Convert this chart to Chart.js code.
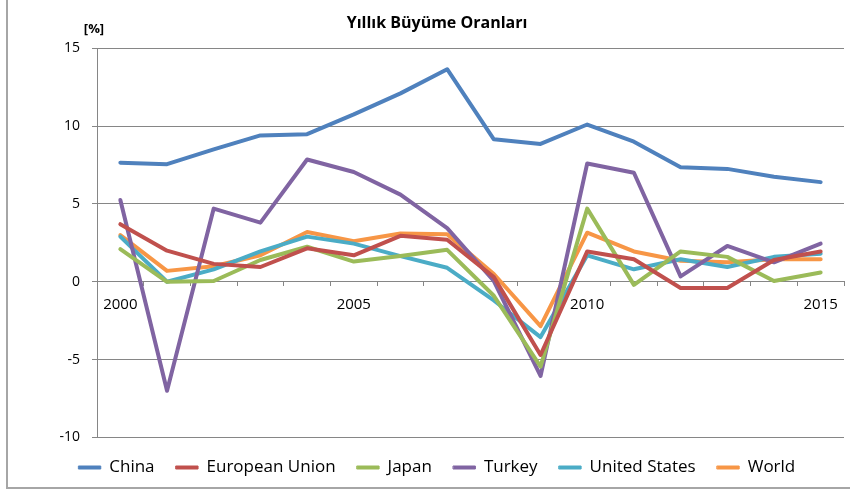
<!DOCTYPE html>
<html>
<head>
<meta charset="utf-8">
<script src="https://cdn.jsdelivr.net/npm/chart.js@4"></script>
<style>
    html, body { margin: 0; padding: 0; background: #fff; }
    #wrap { position: relative; width: 850px; height: 492px; }
</style>
</head>
<body>
<div id="wrap"><canvas id="growthGraph" width="850" height="492"></canvas></div>
<script>
// data
const years = ['2000', '2001', '2002', '2003', '2004', '2005', '2006', '2007',
               '2008', '2009', '2010', '2011', '2012', '2013', '2014', '2015'];
const china = [7.65, 7.55, 8.5, 9.4, 9.48, 10.75, 12.1, 13.65, 9.15, 8.85, 10.1, 9.0, 7.35, 7.25, 6.75, 6.4];
const europeanUnion = [3.7, 2.0, 1.15, 0.95, 2.15, 1.7, 2.95, 2.7, 0.3, -4.7, 1.95, 1.45, -0.4, -0.4, 1.4, 1.95];
const japan = [2.1, 0.0, 0.05, 1.4, 2.25, 1.3, 1.65, 2.05, -0.9, -5.45, 4.7, -0.2, 1.95, 1.6, 0.05, 0.6];
const turkey = [5.25, -7.0, 4.7, 3.8, 7.85, 7.05, 5.6, 3.45, 0.05, -6.05, 7.6, 7.0, 0.35, 2.3, 1.25, 2.45];
const unitedStates = [2.9, 0.0, 0.8, 1.95, 2.9, 2.45, 1.65, 0.9, -1.2, -3.55, 1.7, 0.8, 1.45, 0.95, 1.6, 1.8];
const world = [3.0, 0.7, 1.0, 1.7, 3.2, 2.6, 3.1, 3.05, 0.5, -2.85, 3.15, 1.95, 1.35, 1.25, 1.45, 1.45];
const yTicks = [-10, -5, 0, 5, 10, 15];

const gridColor = '#868686';

function series(label, data, color) {
    return {
        label: label,
        data: data,
        borderColor: color,
        backgroundColor: color,
        borderWidth: 4,
        pointRadius: 0,
        pointHoverRadius: 0,
        tension: 0,
        fill: false,
        borderJoinStyle: 'round',
        borderCapStyle: 'round'
    };
}

// frame, and the [%] unit over the y axis
const extrasPlugin = {
    id: 'extras',
    beforeDraw(chart) {
        const ctx = chart.ctx;
        ctx.save();
        ctx.strokeStyle = '#a6a6a6';
        ctx.lineWidth = 2;
        ctx.beginPath();
        ctx.moveTo(7, 0);
        ctx.lineTo(7, 488);
        ctx.lineTo(850, 488);
        ctx.stroke();
        ctx.restore();
    },
    afterDraw(chart) {
        const ctx = chart.ctx;
        ctx.save();
        ctx.font = 'bold 13px "Open Sans", sans-serif';
        ctx.fillStyle = '#000';
        ctx.textAlign = 'center';
        ctx.textBaseline = 'middle';
        ctx.fillText('[%]', 94, 29);
        ctx.restore();
    }
};

const growthConfig =
{
    type: 'line',
    data: {
        labels: years,
        datasets: [
            series('China', china, '#4F81BD'),
            series('European Union', europeanUnion, '#C0504D'),
            series('Japan', japan, '#9BBB59'),
            series('Turkey', turkey, '#8064A2'),
            series('United States', unitedStates, '#4BACC6'),
            series('World', world, '#F79646')
        ]
    },
    options: {
        responsive: false,
        animation: false,
        layout: {
            padding: { left: 30, right: 6, top: 0, bottom: 6 }
        },
        plugins: {
            title: {
                display: true,
                text: 'Yıllık Büyüme Oranları',
                color: '#000',
                font: { family: '"Open Sans", sans-serif', size: 16, weight: 'bold' },
                padding: { top: 14, bottom: 15 }
            },
            legend: {
                display: true,
                position: 'bottom',
                labels: {
                    color: '#000',
                    font: { family: '"Open Sans", sans-serif', size: 17 },
                    boxWidth: 22,
                    boxHeight: 3,
                    padding: 21.5,
                    generateLabels: function(chart) {
                        return Chart.defaults.plugins.legend.labels.generateLabels(chart).map(function(item) {
                            item.lineWidth = 1;
                            return item;
                        });
                    }
                }
            },
            tooltip: { enabled: false }
        },
        scales: {
            x: {
                type: 'category',
                position: { y: 0 },
                offset: true,
                grid: {
                    offset: true,
                    drawOnChartArea: false,
                    drawTicks: true,
                    tickLength: 4,
                    color: gridColor
                },
                border: { display: true, color: gridColor, width: 1 },
                ticks: {
                    autoSkip: false,
                    maxRotation: 0,
                    padding: 10,
                    color: '#000',
                    font: { family: '"Open Sans", sans-serif', size: 15 },
                    callback: function(value, index) {
                        const label = this.getLabelForValue(value);
                        return (Number(label) % 5 === 0) ? label : '';
                    }
                }
            },
            y: {
                min: yTicks[0],
                max: yTicks[yTicks.length - 1],
                afterFit: function(scale) { scale.width = 67; },
                afterBuildTicks: function(scale) {
                    scale.ticks = yTicks.map(function(v) { return { value: v }; });
                },
                grid: {
                    color: gridColor,
                    lineWidth: 1,
                    tickLength: 5
                },
                border: { display: true, color: gridColor, width: 1 },
                ticks: {
                    padding: 12,
                    color: '#000',
                    font: { family: '"Open Sans", sans-serif', size: 14 }
                }
            }
        }
    },
    plugins: [extrasPlugin]
}

const growthCtx = document.getElementById('growthGraph');
const growthChart = new Chart(growthCtx, growthConfig);
</script>
</body>
</html>
